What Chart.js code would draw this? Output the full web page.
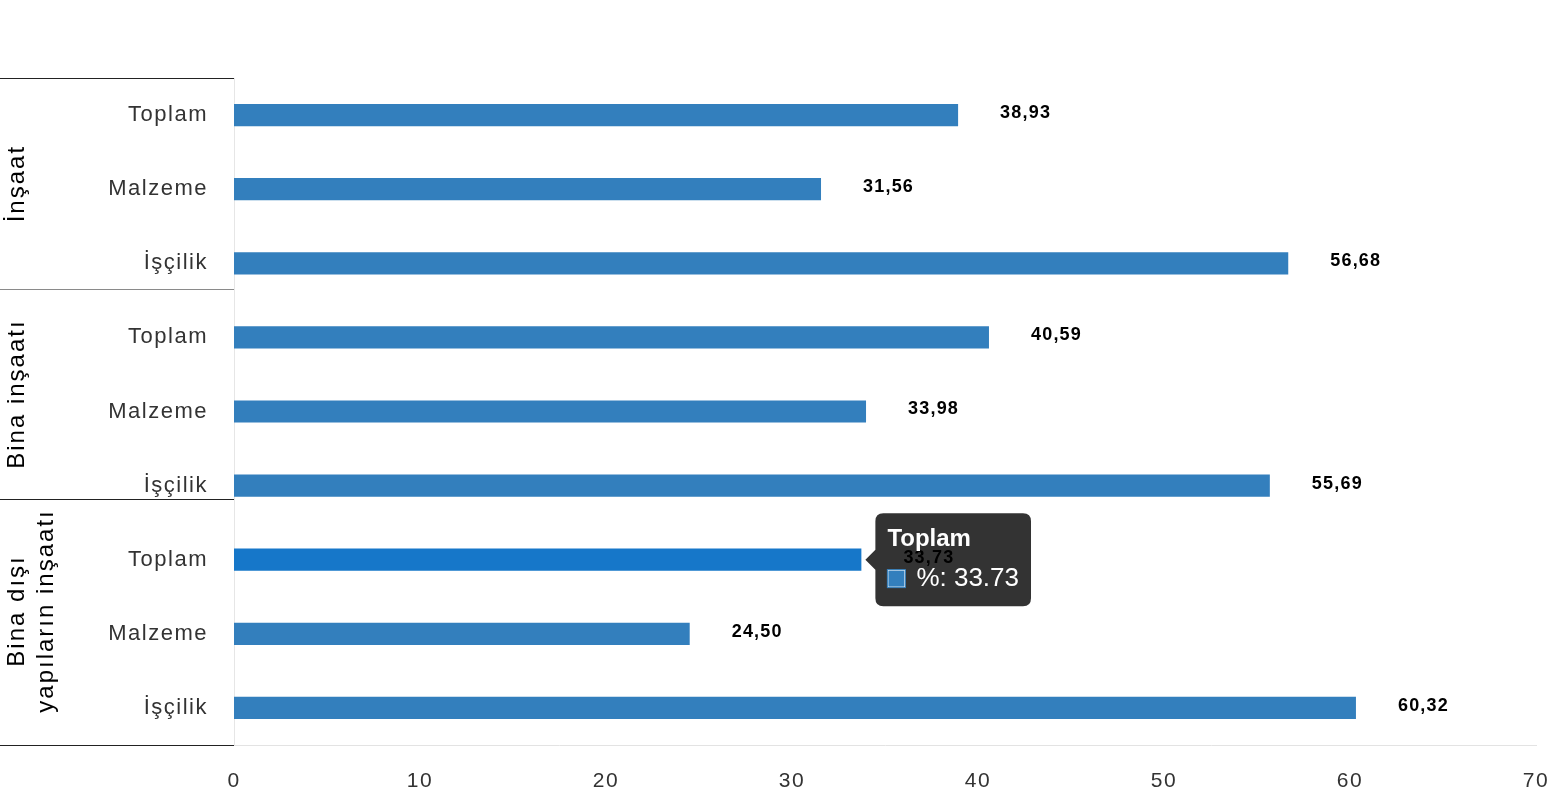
<!DOCTYPE html>
<html>
<head>
<meta charset="utf-8">
<script src="https://cdn.jsdelivr.net/npm/chart.js@4"></script>
<style>
    body { margin: 0; background: #fff; }
    #wrap { width: 1556px; height: 800px; position: relative; }
</style>
</head>
<body>
<div id="wrap"><canvas id="chart"></canvas></div>
<script>
const categories = ['Toplam', 'Malzeme', 'İşçilik', 'Toplam', 'Malzeme', 'İşçilik', 'Toplam', 'Malzeme', 'İşçilik'];
const values = [38.93, 31.56, 56.68, 40.59, 33.98, 55.69, 33.73, 24.50, 60.32];
const groupLabels = [['İnşaat'], ['Bina inşaatı'], ['Bina dışı', 'yapıların inşaatı']];
// group separators, in category index units
const groupBounds = [-0.5, 2.35, 5.18, 8.5];
const separatorColors = ['#222', '#8a8a8a', '#222', '#222'];
const xTicks = [0, 10, 20, 30, 40, 50, 60, 70];
const seriesLabel = '%';

const barColor = '#337fbd';
const hoverColor = '#1677c9';
const fontFamily = "'Liberation Sans', Helvetica, Arial, sans-serif";

// letter spacing for axis text, reset before tooltip draws
const spacingPlugin = {
    id: 'spacing',
    beforeDraw(chart) {
        chart.ctx.letterSpacing = '1.5px';
    },
    afterDatasetsDraw(chart) {
        const ctx = chart.ctx;
        const meta = chart.getDatasetMeta(0);
        ctx.save();
        ctx.letterSpacing = '1.2px';
        ctx.font = `bold 18px ${fontFamily}`;
        ctx.fillStyle = '#000';
        ctx.textAlign = 'left';
        ctx.textBaseline = 'middle';
        meta.data.forEach((bar, i) => {
            ctx.fillText(values[i].toFixed(2).replace('.', ','), bar.x + 42, bar.y - 2);
        });
        ctx.restore();

        // group labels and separators on the left
        const y = chart.scales.y;
        const right = y.right;
        ctx.save();
        groupBounds.forEach((b, i) => {
            const py = Math.round(y.getPixelForValue(b)) + 0.5;
            ctx.strokeStyle = separatorColors[i];
            ctx.lineWidth = 1;
            ctx.beginPath();
            ctx.moveTo(0, py);
            ctx.lineTo(right, py);
            ctx.stroke();
        });
        ctx.letterSpacing = '2px';
        ctx.font = `24px ${fontFamily}`;
        ctx.fillStyle = '#000';
        ctx.textAlign = 'center';
        ctx.textBaseline = 'alphabetic';
        groupLabels.forEach((lines, i) => {
            const mid = (y.getPixelForValue(groupBounds[i]) + y.getPixelForValue(groupBounds[i + 1])) / 2;
            ctx.save();
            ctx.translate(0, mid - (lines.length - 1) * 11);
            ctx.rotate(-Math.PI / 2);
            lines.forEach((line, j) => {
                ctx.fillText(line, 0, 24 + j * 29);
            });
            ctx.restore();
        });
        ctx.restore();
        ctx.letterSpacing = '0px';
    }
};

const ctx = document.getElementById('chart').getContext('2d');
const chart = new Chart(ctx, {
    type: 'bar',
    data: {
        labels: categories,
        datasets: [{
            label: seriesLabel,
            data: values,
            backgroundColor: barColor,
            hoverBackgroundColor: hoverColor,
            borderWidth: 0,
            categoryPercentage: 1,
            barPercentage: 0.3
        }]
    },
    options: {
        indexAxis: 'y',
        responsive: true,
        maintainAspectRatio: false,
        animation: false,
        events: [],
        layout: { padding: { top: 78, right: 20, left: 0, bottom: 0 } },
        scales: {
            x: {
                min: 0,
                max: 70,
                afterBuildTicks: s => { s.ticks = xTicks.map(v => ({ value: v })); },
                grid: { display: false, drawTicks: false },
                border: { display: true, color: '#e3e3e3' },
                ticks: {
                    padding: 24,
                    color: '#333',
                    font: { family: fontFamily, size: 21 }
                },
                afterFit: s => {
                    s.height = 55;
                    s.paddingLeft = 0;
                    s.paddingRight = 0;
                }
            },
            y: {
                grid: { display: false, drawTicks: false },
                border: { display: true, color: '#e6e6e6' },
                ticks: {
                    padding: 26,
                    color: '#333',
                    font: { family: fontFamily, size: 22 }
                },
                afterFit: s => { s.width = 234; }
            }
        },
        plugins: {
            legend: { display: false },
            tooltip: {
                backgroundColor: 'rgba(0,0,0,0.8)',
                titleFont: { family: fontFamily, size: 24, weight: 'bold' },
                bodyFont: { family: fontFamily, size: 26 },
                titleColor: '#fff',
                bodyColor: '#fff',
                padding: 12,
                cornerRadius: 8,
                caretSize: 10,
                caretPadding: 4,
                boxWidth: 18,
                boxHeight: 18,
                boxPadding: 9,
                titleMarginBottom: 9,
                callbacks: {
                    label: c => `${c.dataset.label}: ${c.raw}`,
                    labelColor: () => ({ borderColor: barColor, backgroundColor: barColor, borderWidth: 0 })
                }
            }
        }
    },
    plugins: [spacingPlugin]
});

const active = [{ datasetIndex: 0, index: 6 }];
chart.setActiveElements(active);
const bar = chart.getDatasetMeta(0).data[6];
chart.tooltip.setActiveElements(active, { x: bar.x, y: bar.y });
chart.draw();
</script>
</body>
</html>
